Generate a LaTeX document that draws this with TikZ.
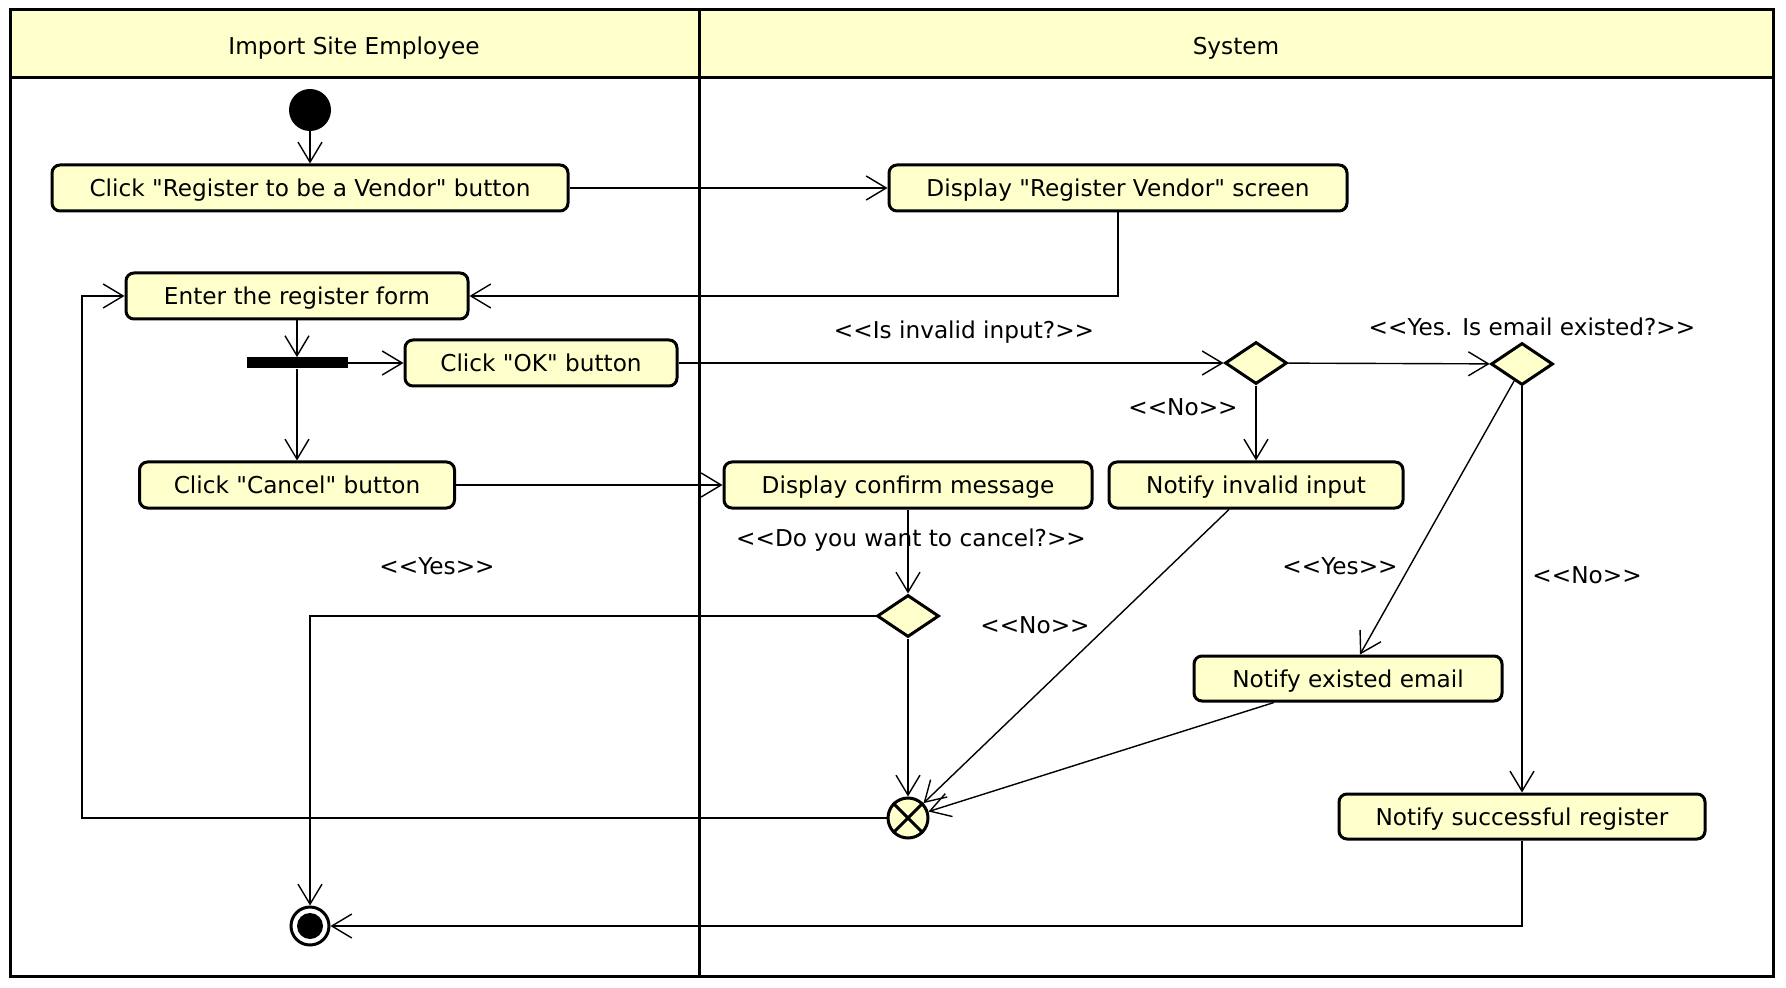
\documentclass[tikz,border=0pt]{standalone}
\usepackage{fontspec}
\newfontfamily\uf{DejaVu Sans}
\usetikzlibrary{arrows.meta,shapes.geometric}
\definecolor{uy}{HTML}{FFFFCC}
\begin{document}
\begin{tikzpicture}[x=0.5pt,y=-0.5pt,
  txt/.style={font=\uf\fontsize{11.6}{14}\selectfont},
  act/.style={txt,draw,line width=1.5pt,rounded corners=4pt,fill=uy,inner sep=0pt,minimum height=23pt,text height=9pt,text depth=0.5pt},
  dec/.style={draw,line width=1.5pt,fill=uy,diamond,inner sep=0pt,minimum width=31pt,minimum height=21pt},
  flow/.style={line width=0.7pt,-{Straight Barb[length=10pt,width=12pt,line width=0.7pt]}},
  lbl/.style={txt,inner sep=0pt}]
\fill[white] (0,0) rectangle (1786,988);
\useasboundingbox (0,0) rectangle (1786,988);
% swimlanes
\fill[uy] (10,10) rectangle (1773,78);
\draw[line width=1.5pt] (10,10) rectangle (1773,976);
\draw[line width=1.5pt] (10,78) -- (1773,78);
\draw[line width=1.5pt] (699,10) -- (699,976);
\node[txt,text height=9pt,text depth=0.5pt,inner sep=0pt] (h1) at (354,46) {Import Site Employee};
\node[txt,text height=9pt,text depth=0.5pt,inner sep=0pt] (h2) at (1236,46) {System};
% nodes
\node[circle,fill=black,minimum size=21pt,inner sep=0pt] (ini) at (310,110) {};
\node[act,minimum width=258pt] (a1) at (310,188) {Click "Register to be a Vendor" button};
\node[act,minimum width=229pt] (a2) at (1118,188) {Display "Register Vendor" screen};
\node[act,minimum width=171pt] (a3) at (297,296) {Enter the register form};
\node[fill=black,minimum width=50.5pt,minimum height=5.5pt,inner sep=0pt] (bar) at (297,363) {};
\node[act,minimum width=136pt] (a4) at (541,363) {Click "OK" button};
\node[act,minimum width=157.5pt] (a5) at (297,485) {Click "Cancel" button};
\node[act,minimum width=184pt] (a6) at (908,485) {Display confirm message};
\node[act,minimum width=147pt] (a7) at (1256,485) {Notify invalid input};
\node[dec] (d1) at (1256,363) {};
\node[dec] (d2) at (1522,364) {};
\node[dec] (d3) at (908,616) {};
\node[act,minimum width=154pt,minimum height=22.5pt] (a8) at (1348,678.5) {Notify existed email};
\node[act,minimum width=183pt,minimum height=22.5pt] (a9) at (1522,816.5) {Notify successful register};
\node[draw,circle,line width=1.5pt,fill=uy,minimum size=20pt,inner sep=0pt] (mg) at (908,818) {};
\draw[line width=1.5pt] (mg.45) -- (mg.225) (mg.135) -- (mg.315);
\node[circle,draw,line width=1.5pt,fill=white,minimum size=19pt,inner sep=0pt] (fin) at (310,926) {};
\node[circle,fill=black,minimum size=13pt,inner sep=0pt] (fin2) at (fin) {};
% labels
\node[lbl] (l1) at (964,332) {<<Is invalid input?>>};
\node[lbl] (l2) at (1532,327) {<<Yes. Is email existed?>>};
\node[lbl] (l3) at (1183,407) {<<No>>};
\node[lbl] (l4) at (911,540) {<<Do you want to cancel?>>};
\node[lbl] (l5) at (437,566) {<<Yes>>};
\node[lbl] (l6) at (1035,625) {<<No>>};
\node[lbl] (l7) at (1340,566) {<<Yes>>};
\node[lbl] (l8) at (1587,575) {<<No>>};
% connectors
\draw[flow] (ini) -- (a1);
\draw[flow] (a1) -- (a2);
\draw[flow] (a2.south) |- (a3.east);
\draw[flow] (a3) -- (bar);
\draw[flow] (bar) -- (a4);
\draw[flow] (bar) -- (a5);
\draw[flow] (a5) -- (a6);
\draw[flow] (a4) -- (d1);
\draw[flow] (d1) -- (d2);
\draw[flow] (d1) -- (a7);
\draw[flow] (d2.245) -- ([xshift=6pt]a8.north);
\draw[flow] (d2) -- (a9);
\draw[flow] (a6) -- (d3);
\draw[flow] (d3.west) -| (fin.north);
\draw[flow] (d3) -- (mg);
\draw[flow] ([xshift=-13.5pt]a7.south) -- (mg);
\draw[flow] ([xshift=-37pt]a8.south) -- (mg);
\coordinate (lp) at (82,818);
\draw[flow] (mg.west) -- (lp) |- (a3.west);
\draw[flow] (a9.south) |- (fin.east);
\end{tikzpicture}
\end{document}
